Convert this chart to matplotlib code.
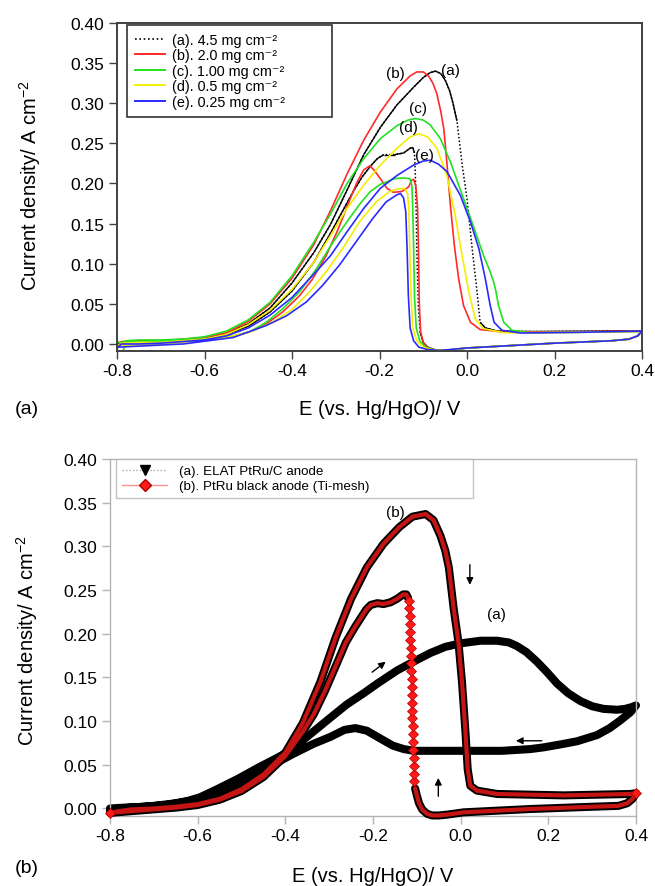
import numpy as np
import matplotlib
matplotlib.use("Agg")
import matplotlib.pyplot as plt
from matplotlib.lines import Line2D
from matplotlib.collections import LineCollection

plt.rcParams['font.family'] = ['Liberation Sans', 'DejaVu Sans']
plt.rcParams['mathtext.default'] = 'regular'

# ---------------- Panel (a): effect of anode catalyst loading ----------------
load_labels = ['(a). 4.5 mg cm\u207b\u00b2', '(b). 2.0 mg cm\u207b\u00b2', '(c). 1.00 mg cm\u207b\u00b2',
               '(d). 0.5 mg cm\u207b\u00b2', '(e). 0.25 mg cm\u207b\u00b2']
load_tags = ['(a)', '(b)', '(c)', '(d)', '(e)']

# 4.5 mg cm-2 (forward / reverse sweep)
e45_f = [-0.800, -0.790, -0.750, -0.700, -0.650, -0.600, -0.550, -0.500, -0.450, -0.400,
         -0.350, -0.312, -0.274, -0.236, -0.198, -0.160, -0.122, -0.100, -0.085, -0.072,
         -0.060, -0.050, -0.040, -0.032, -0.023, -0.011, 0.000, 0.011, 0.023, 0.030,
         0.042, 0.070, 0.150, 0.300, 0.400]
j45_f = [-0.004, 0.002, 0.003, 0.003, 0.005, 0.007, 0.013, 0.025, 0.045, 0.076,
         0.114, 0.149, 0.192, 0.236, 0.270, 0.298, 0.320, 0.332, 0.338, 0.340,
         0.337, 0.329, 0.316, 0.300, 0.278, 0.223, 0.181, 0.123, 0.065, 0.027,
         0.020, 0.016, 0.0155, 0.016, 0.0165]
e45_r = [0.400, 0.390, 0.370, 0.330, 0.200, 0.100, 0.000, -0.050, -0.075, -0.090,
         -0.100, -0.107, -0.111, -0.114, -0.116, -0.118, -0.120, -0.124, -0.130, -0.145,
         -0.165, -0.190, -0.205, -0.220, -0.240, -0.260, -0.280, -0.312, -0.350, -0.400,
         -0.450, -0.500, -0.550, -0.600, -0.700, -0.800]
j45_r = [0.0165, 0.010, 0.006, 0.004, 0.001, -0.002, -0.005, -0.008, -0.007, -0.004,
         0.002, 0.015, 0.045, 0.100, 0.160, 0.210, 0.238, 0.245, 0.244, 0.238,
         0.236, 0.236, 0.231, 0.222, 0.208, 0.190, 0.170, 0.138, 0.102, 0.066,
         0.040, 0.022, 0.012, 0.007, 0.004, 0.001]

# 2.0 mg cm-2
e20_f = [-0.800, -0.790, -0.750, -0.700, -0.650, -0.600, -0.550, -0.500, -0.450, -0.400,
         -0.350, -0.312, -0.274, -0.236, -0.198, -0.160, -0.130, -0.115, -0.100, -0.088,
         -0.078, -0.069, -0.060, -0.053, -0.046, -0.038, -0.029, -0.019, -0.008, 0.008,
         0.030, 0.080, 0.200, 0.400]
j20_f = [-0.006, 0.003, 0.004, 0.004, 0.006, 0.008, 0.014, 0.028, 0.050, 0.082,
         0.124, 0.166, 0.212, 0.254, 0.289, 0.318, 0.334, 0.339, 0.339, 0.334,
         0.325, 0.312, 0.290, 0.268, 0.226, 0.173, 0.123, 0.081, 0.048, 0.027,
         0.018, 0.015, 0.015, 0.016]
e20_r = [0.400, 0.390, 0.370, 0.330, 0.200, 0.100, 0.000, -0.050, -0.075, -0.090,
         -0.100, -0.106, -0.109, -0.111, -0.113, -0.117, -0.122, -0.127, -0.133, -0.149,
         -0.168, -0.183, -0.198, -0.213, -0.222, -0.236, -0.251, -0.267, -0.282, -0.297,
         -0.322, -0.353, -0.383, -0.421, -0.459, -0.497, -0.535, -0.611, -0.725, -0.800]
j20_r = [0.016, 0.010, 0.006, 0.004, 0.001, -0.002, -0.005, -0.008, -0.008, -0.005,
         0.002, 0.015, 0.050, 0.120, 0.170, 0.197, 0.205, 0.204, 0.196, 0.190,
         0.189, 0.194, 0.206, 0.217, 0.222, 0.217, 0.202, 0.181, 0.160, 0.140,
         0.110, 0.081, 0.060, 0.040, 0.025, 0.015, 0.0096, 0.0054, 0.003, 0.002]

# 1.00 mg cm-2
e10_f = [-0.785, -0.780, -0.750, -0.700, -0.650, -0.600, -0.550, -0.500, -0.450, -0.400,
         -0.350, -0.312, -0.274, -0.236, -0.198, -0.160, -0.135, -0.118, -0.100, -0.084,
         -0.061, -0.038, -0.019, 0.000, 0.019, 0.038, 0.053, 0.061, 0.066, 0.072,
         0.084, 0.103, 0.145, 0.250, 0.400]
j10_f = [-0.007, 0.004, 0.005, 0.005, 0.006, 0.009, 0.016, 0.030, 0.052, 0.085,
         0.127, 0.162, 0.200, 0.231, 0.256, 0.272, 0.279, 0.281, 0.279, 0.273,
         0.256, 0.227, 0.198, 0.169, 0.140, 0.110, 0.090, 0.077, 0.066, 0.048,
         0.027, 0.017, 0.014, 0.0145, 0.0155]
e10_r = [0.400, 0.390, 0.370, 0.330, 0.200, 0.100, 0.000, -0.050, -0.080, -0.095,
         -0.108, -0.116, -0.120, -0.122, -0.124, -0.126, -0.131, -0.147, -0.165, -0.198,
         -0.221, -0.244, -0.267, -0.290, -0.312, -0.345, -0.383, -0.421, -0.459, -0.497,
         -0.535, -0.649, -0.800]
j10_r = [0.0155, 0.010, 0.006, 0.004, 0.001, -0.002, -0.005, -0.008, -0.007, -0.004,
         0.004, 0.020, 0.060, 0.120, 0.170, 0.198, 0.206, 0.207, 0.206, 0.199,
         0.190, 0.175, 0.158, 0.140, 0.122, 0.093, 0.065, 0.044, 0.027, 0.015,
         0.0096, 0.004, 0.002]

# 0.5 mg cm-2
e05_f = [-0.800, -0.790, -0.750, -0.700, -0.650, -0.600, -0.550, -0.500, -0.450, -0.400,
         -0.350, -0.312, -0.274, -0.236, -0.198, -0.160, -0.130, -0.110, -0.090, -0.069,
         -0.046, -0.027, -0.011, 0.004, 0.019, 0.038, 0.084, 0.250, 0.400]
j05_f = [-0.004, 0.001, 0.002, 0.002, 0.004, 0.006, 0.012, 0.024, 0.042, 0.068,
         0.102, 0.135, 0.169, 0.198, 0.223, 0.244, 0.258, 0.262, 0.258, 0.244,
         0.210, 0.160, 0.110, 0.065, 0.031, 0.019, 0.014, 0.0145, 0.0155]
e05_r = [0.400, 0.390, 0.370, 0.330, 0.200, 0.100, 0.000, -0.050, -0.080, -0.100,
         -0.115, -0.124, -0.128, -0.131, -0.133, -0.136, -0.143, -0.160, -0.177, -0.208,
         -0.246, -0.284, -0.322, -0.360, -0.398, -0.444, -0.497, -0.573, -0.687, -0.800]
j05_r = [0.0155, 0.010, 0.006, 0.004, 0.001, -0.002, -0.005, -0.008, -0.007, -0.004,
         0.004, 0.020, 0.060, 0.120, 0.170, 0.188, 0.194, 0.193, 0.190, 0.177,
         0.152, 0.119, 0.090, 0.065, 0.044, 0.027, 0.0146, 0.006, 0.000, -0.002]

# 0.25 mg cm-2
e025_f = [-0.800, -0.790, -0.750, -0.700, -0.650, -0.600, -0.550, -0.500, -0.450, -0.400,
          -0.350, -0.312, -0.274, -0.236, -0.198, -0.160, -0.122, -0.100, -0.084, -0.065,
          -0.046, -0.015, 0.008, 0.027, 0.042, 0.053, 0.062, 0.080, 0.122, 0.250, 0.400]
j025_f = [-0.005, 0.000, 0.000, 0.001, 0.003, 0.005, 0.010, 0.020, 0.036, 0.058,
          0.087, 0.110, 0.140, 0.169, 0.194, 0.210, 0.223, 0.228, 0.229, 0.224,
          0.215, 0.185, 0.152, 0.119, 0.081, 0.048, 0.027, 0.017, 0.0137, 0.0145, 0.016]
e025_r = [0.400, 0.390, 0.370, 0.330, 0.200, 0.100, 0.000, -0.060, -0.090, -0.110,
          -0.122, -0.130, -0.134, -0.137, -0.140, -0.145, -0.152, -0.160, -0.185, -0.216,
          -0.254, -0.292, -0.330, -0.368, -0.413, -0.459, -0.535, -0.649, -0.800]
j025_r = [0.016, 0.010, 0.006, 0.004, 0.001, -0.002, -0.005, -0.008, -0.007, -0.004,
          0.004, 0.020, 0.060, 0.120, 0.165, 0.182, 0.1875, 0.186, 0.177, 0.156,
          0.127, 0.098, 0.073, 0.052, 0.035, 0.023, 0.008, 0.000, -0.004]

# curve tags: position of each "(x)" label
tag_x = [-0.038, -0.164, -0.113, -0.133, -0.097]
tag_y = [0.342, 0.3375, 0.294, 0.271, 0.236]

# ---------------- Panel (b): ELAT vs PtRu black anode ----------------
elat_f_e = [-0.800, -0.780, -0.750, -0.700, -0.650, -0.620, -0.594, -0.556, -0.508, -0.461,
            -0.430, -0.400, -0.370, -0.336, -0.297, -0.260, -0.221, -0.190, -0.145, -0.100,
            -0.069, -0.035, 0.000, 0.045, 0.083, 0.110, 0.128, 0.150, 0.174, 0.197,
            0.220, 0.245, 0.273, 0.300, 0.326, 0.357, 0.375, 0.390, 0.400]
elat_f_j = [-0.002, 0.000, 0.001, 0.003, 0.006, 0.009, 0.013, 0.022, 0.034, 0.047,
            0.055, 0.063, 0.074, 0.088, 0.104, 0.119, 0.132, 0.143, 0.158, 0.170,
            0.178, 0.185, 0.189, 0.192, 0.192, 0.190, 0.186, 0.179, 0.168, 0.156,
            0.143, 0.132, 0.123, 0.117, 0.114, 0.113, 0.114, 0.116, 0.118]
elat_r_e = [0.400, 0.387, 0.362, 0.340, 0.311, 0.266, 0.235, 0.190, 0.159, 0.094,
            0.007, -0.050, -0.107, -0.130, -0.155, -0.183, -0.214, -0.240, -0.265, -0.297,
            -0.336, -0.384, -0.432, -0.480, -0.528, -0.575, -0.623, -0.671, -0.720, -0.767, -0.800]
elat_r_j = [0.118, 0.110, 0.100, 0.092, 0.084, 0.077, 0.074, 0.070, 0.068, 0.066,
            0.066, 0.066, 0.066, 0.068, 0.072, 0.080, 0.089, 0.092, 0.090, 0.082,
            0.074, 0.062, 0.049, 0.035, 0.024, 0.014, 0.008, 0.004, 0.002, 0.001, 0.000]

ptb_f_e = [-0.800, -0.780, -0.750, -0.700, -0.650, -0.600, -0.550, -0.500, -0.450, -0.400,
           -0.360, -0.320, -0.285, -0.250, -0.214, -0.176, -0.140, -0.110, -0.080, -0.062,
           -0.046, -0.035, -0.027, -0.016, -0.005, 0.003, 0.011, 0.016, 0.022, 0.037,
           0.083, 0.235, 0.387, 0.400]
ptb_f_j = [-0.005, -0.003, -0.001, 0.000, 0.002, 0.005, 0.011, 0.022, 0.039, 0.064,
           0.098, 0.145, 0.196, 0.240, 0.276, 0.303, 0.322, 0.334, 0.337, 0.330,
           0.312, 0.295, 0.276, 0.229, 0.190, 0.145, 0.087, 0.045, 0.026, 0.0205,
           0.0166, 0.0150, 0.0166, 0.0175]
ptb_base_e = [0.400, 0.392, 0.380, 0.360, 0.300, 0.159, 0.007, -0.030, -0.050, -0.065,
              -0.077, -0.088, -0.095, -0.100, -0.104]
ptb_base_j = [0.0175, 0.011, 0.006, 0.003, 0.002, -0.0006, -0.0044, -0.007, -0.008, -0.008,
              -0.006, -0.001, 0.006, 0.015, 0.023]
ptb_jump_e = [-0.106, -0.106, -0.107, -0.107, -0.108, -0.108, -0.109, -0.109, -0.110, -0.110,
              -0.111, -0.111, -0.112, -0.112, -0.113, -0.113, -0.114, -0.114, -0.115, -0.115,
              -0.116, -0.116, -0.117, -0.118]
ptb_jump_j = [0.031, 0.040, 0.049, 0.058, 0.067, 0.076, 0.085, 0.094, 0.103, 0.112,
              0.121, 0.130, 0.139, 0.148, 0.157, 0.166, 0.175, 0.184, 0.193, 0.202,
              0.211, 0.220, 0.229, 0.237]
ptb_ret_e = [-0.120, -0.124, -0.131, -0.145, -0.160, -0.176, -0.190, -0.205, -0.215, -0.228,
             -0.242, -0.262, -0.285, -0.310, -0.335, -0.360, -0.400, -0.450, -0.500, -0.550,
             -0.600, -0.650, -0.700, -0.750, -0.800]
ptb_ret_j = [0.241, 0.245, 0.245, 0.240, 0.236, 0.234, 0.235, 0.233, 0.228, 0.218,
             0.207, 0.190, 0.163, 0.134, 0.108, 0.088, 0.060, 0.036, 0.020, 0.010,
             0.004, 0.001, -0.001, -0.003, -0.005]

legend_b = ['(a). ELAT PtRu/C anode', '(b). PtRu black anode (Ti-mesh)']

x_ticks = [-0.8, -0.6, -0.4, -0.2, 0.0, 0.2, 0.4]
y_ticks = [0.00, 0.05, 0.10, 0.15, 0.20, 0.25, 0.30, 0.35, 0.40]

# ---------------- figure ----------------
W, H = 655, 887
fig = plt.figure(figsize=(W / 100, H / 100), dpi=100)
ax1 = fig.add_axes([117 / W, 1 - 352 / H, 525 / W, 328 / H])
ax2 = fig.add_axes([110 / W, 1 - 817 / H, 526 / W, 357 / H])


def style_axes(ax, spine_color, spine_lw, ylo):
    ax.set_xlim(-0.8, 0.4)
    ax.set_ylim(ylo, 0.40)
    ax.set_xticks(x_ticks)
    ax.set_xticklabels([f'{v:.1f}' for v in x_ticks])
    ax.set_yticks(y_ticks)
    ax.set_yticklabels([f'{v:.2f}' for v in y_ticks])
    for s in ax.spines.values():
        s.set_color(spine_color)
        s.set_linewidth(spine_lw)
    ax.tick_params(direction='out', length=6, width=1.0, color=spine_color,
                   labelsize=12.5, pad=3, labelcolor='black')


style_axes(ax1, '#404040', 1.4, -0.00875)
style_axes(ax2, '#b4b4b4', 1.0, -0.0086)


def cycle(ef, jf, er, jr):
    return np.array(ef + er), np.array(jf + jr)


curves = [
    (cycle(e45_f, j45_f, e45_r, j45_r), 'black'),
    (cycle(e20_f, j20_f, e20_r, j20_r), '#ff2a2a'),
    (cycle(e10_f, j10_f, e10_r, j10_r), '#22e022'),
    (cycle(e05_f, j05_f, e05_r, j05_r), '#f5ee00'),
    (cycle(e025_f, j025_f, e025_r, j025_r), '#2a2aff'),
]

# 4.5 mg cm-2: dotted trace, looking solid where the sampled points crowd together
(E, J), c = curves[0]
ax1.plot(E, J, color='black', lw=1.1, ls=(0, (1, 1.4)))
segs = np.stack([np.column_stack([E[:-1], J[:-1]]), np.column_stack([E[1:], J[1:]])], axis=1)
dE = np.diff(E)
slope = np.abs(np.diff(J) / np.where(dE == 0, 1e-9, dE))
ax1.add_collection(LineCollection(segs[slope < 3.0], colors='black', linewidths=1.0))

for (E, J), c in curves[1:]:
    ax1.plot(E, J, color=c, lw=1.2)

for t, x, y in zip(load_tags, tag_x, tag_y):
    ax1.text(x, y, t, fontsize=11, ha='center', va='center')

handles = [Line2D([], [], color='black', lw=1.2, ls=(0, (1, 1.6)))] + \
          [Line2D([], [], color=c, lw=1.4) for _, c in curves[1:]]
leg1 = ax1.legend(handles, load_labels, loc='upper left',
                  bbox_to_anchor=(0.019, 0.70, 205 / 525, 0.294), mode='expand',
                  borderaxespad=0, fontsize=10.4, frameon=True, fancybox=False,
                  handlelength=2.05, handletextpad=0.5, labelspacing=0.1,
                  borderpad=0.55)
leg1.get_frame().set_edgecolor('black')
leg1.get_frame().set_linewidth(1.2)

# ---------------- panel (b) drawing ----------------
Ea = np.array(elat_f_e + elat_r_e)
Ja = np.array(elat_f_j + elat_r_j)
ax2.plot(Ea, Ja, color='black', lw=5.8, solid_capstyle='round', solid_joinstyle='round',
         clip_on=False, zorder=2)

Eb_all = np.array(ptb_f_e + ptb_base_e + ptb_jump_e + ptb_ret_e)
Jb_all = np.array(ptb_f_j + ptb_base_j + ptb_jump_j + ptb_ret_j)
ax2.plot(Eb_all, Jb_all, color='#ff8a8a', lw=0.8, zorder=3)
for ee, jj in [(ptb_f_e + ptb_base_e, ptb_f_j + ptb_base_j), (ptb_ret_e, ptb_ret_j)]:
    ax2.plot(ee, jj, color='black', lw=5.8, solid_capstyle='round', solid_joinstyle='round',
             clip_on=False, zorder=4)
    ax2.plot(ee, jj, color='#c41414', lw=3.0, solid_capstyle='round', solid_joinstyle='round',
             clip_on=False, zorder=5)
ax2.plot(ptb_jump_e, ptb_jump_j, ls='none', marker='D', ms=5.2, mfc='#ff1a1a',
         mec='#b00000', mew=0.5, zorder=6)
ax2.plot([ptb_f_e[0], ptb_f_e[-1]], [ptb_f_j[0], ptb_f_j[-1]], ls='none', marker='D',
         ms=5.2, mfc='#ff1a1a', mec='#b00000', mew=0.5, zorder=6, clip_on=False)

arrow_kw = dict(arrowstyle='-|>', color='black', lw=1.0, mutation_scale=10,
                shrinkA=0, shrinkB=0)
for tail, head in [((0.021, 0.279), (0.021, 0.256)),
                   ((-0.202, 0.156), (-0.171, 0.168)),
                   ((0.185, 0.0775), (0.126, 0.0775)),
                   ((-0.051, 0.014), (-0.051, 0.035))]:
    ax2.annotate('', xy=head, xytext=tail, arrowprops=arrow_kw, zorder=7)

ax2.text(-0.149, 0.339, '(b)', fontsize=11, ha='center', va='center')
ax2.text(0.082, 0.223, '(a)', fontsize=11, ha='center', va='center')

hb = [Line2D([], [], color='#a8a8a8', lw=1.0, ls=(0, (1, 1.5)), marker='v', ms=7,
             mfc='black', mec='black'),
      Line2D([], [], color='#ff9090', lw=1.0, marker='D', ms=6, mfc='#ff1a1a', mec='#b00000')]
leg2 = ax2.legend(hb, legend_b, loc='upper left',
                  bbox_to_anchor=(0.0114, 0.80, 357 / 526, 0.20), mode='expand',
                  borderaxespad=0, fontsize=9.6, frameon=True, fancybox=False,
                  handlelength=3.4, handletextpad=0.9, labelspacing=0.2,
                  borderpad=0.45, numpoints=1)
leg2.get_frame().set_edgecolor('#b4b4b4')
leg2.get_frame().set_linewidth(1.0)

# ---------------- axis titles and panel marks ----------------
ylab = 'Current density/ A cm$^{-2}$'
fig.text(30 / W, 1 - 185 / H, ylab, rotation=90, ha='center', va='center', fontsize=14.5)
fig.text(27 / W, 1 - 640 / H, ylab, rotation=90, ha='center', va='center', fontsize=14.5)
fig.text(379.5 / W, 1 - 410 / H, 'E (vs. Hg/HgO)/ V', ha='center', va='center', fontsize=14.5)
fig.text(373 / W, 1 - 877 / H, 'E (vs. Hg/HgO)/ V', ha='center', va='center', fontsize=14.5)
fig.text(27 / W, 1 - 410 / H, '(a)', ha='center', va='center', fontsize=14)
fig.text(27 / W, 1 - 869 / H, '(b)', ha='center', va='center', fontsize=14)

fig.savefig('out.png', dpi=100)
